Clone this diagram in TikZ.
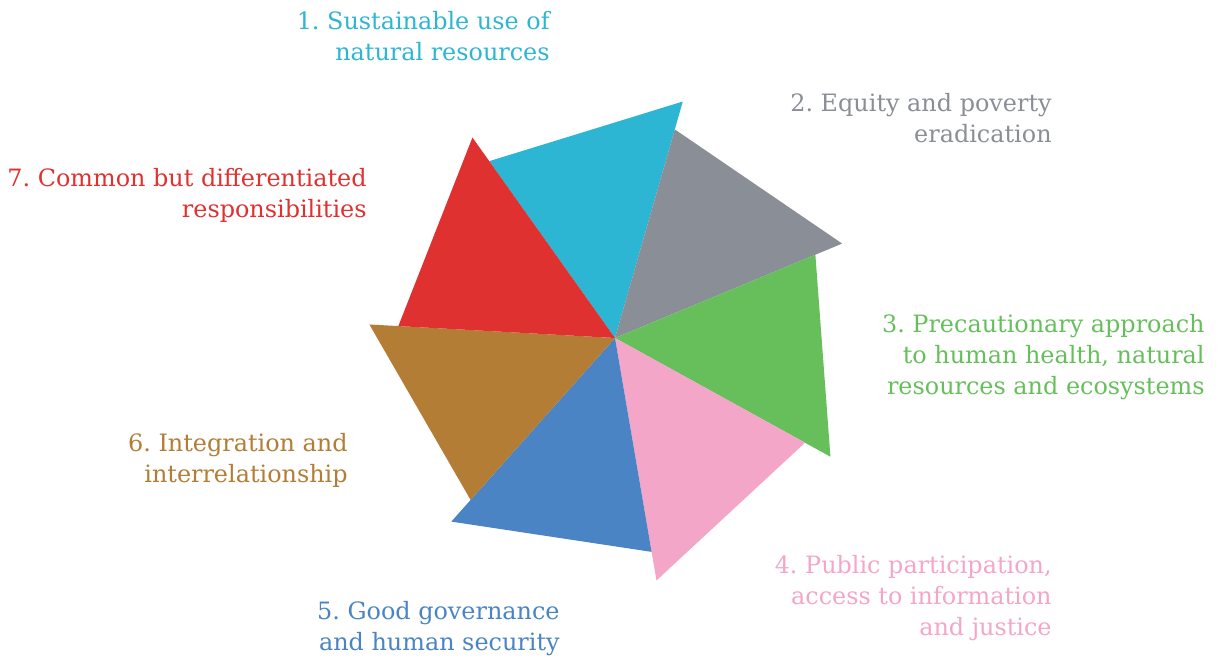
\documentclass[tikz,border=0pt]{standalone}
\usepackage{fontspec}
\setmainfont{DejaVu Serif}
\usepackage{tikz}
\usepackage{xcolor}
\usetikzlibrary{positioning, calc}

\definecolor{pcyan}{HTML}{2DB6D4}
\definecolor{pgrey}{HTML}{8A8E96}
\definecolor{pgreen}{HTML}{67BF5C}
\definecolor{ppink}{HTML}{F4A6C9}
\definecolor{pblue}{HTML}{4A84C4}
\definecolor{pbrown}{HTML}{B37D35}
\definecolor{pred}{HTML}{E03131}

\tikzset{
    label/.style={inner sep=0pt, anchor=east, align=right,
        font=\fontsize{13.6}{17.6}\selectfont\frenchspacing},
}

\begin{document}
\begin{tikzpicture}
        \useasboundingbox (0, 0) rectangle (24.38, 13.22);
        \coordinate (c) at (12.30, 6.46);

        % pinwheel blades, clockwise from the top
        \foreach \col [count=\k from 0] in {pcyan, pgrey, pgreen, ppink, pblue, pbrown, pred} {
            \pgfmathsetmacro{\tip}{74 - 51.43*\k}
            \pgfmathsetmacro{\near}{\tip + 51.43}
            \fill[\col] (c) -- ($(c) + (\tip:4.92)$) -- ($(c) + (\near:4.34)$) -- cycle;
        }

        \node[label, text=pcyan] (p1) at (11.00, 12.50) {1. Sustainable use of\\natural resources};
        \node[label, text=pgrey] (p2) at (21.04, 10.85) {2. Equity and poverty\\eradication};
        \node[label, text=pgreen] (p3) at (24.10, 6.08) {3. Precautionary approach\\to human health, natural\\resources and ecosystems};
        \node[label, text=ppink] (p4) at (21.04, 1.26) {4. Public participation,\\access to information\\and justice};
        \node[label, text=pblue] (p5) at (11.20, 0.64) {5. Good governance\\and human security};
        \node[label, text=pbrown] (p6) at (6.96, 4.01) {6. Integration and\\interrelationship};
        \node[label, text=pred] (p7) at (7.34, 9.31) {7. Common but differentiated\\responsibilities};
    \end{tikzpicture}
\end{document}
